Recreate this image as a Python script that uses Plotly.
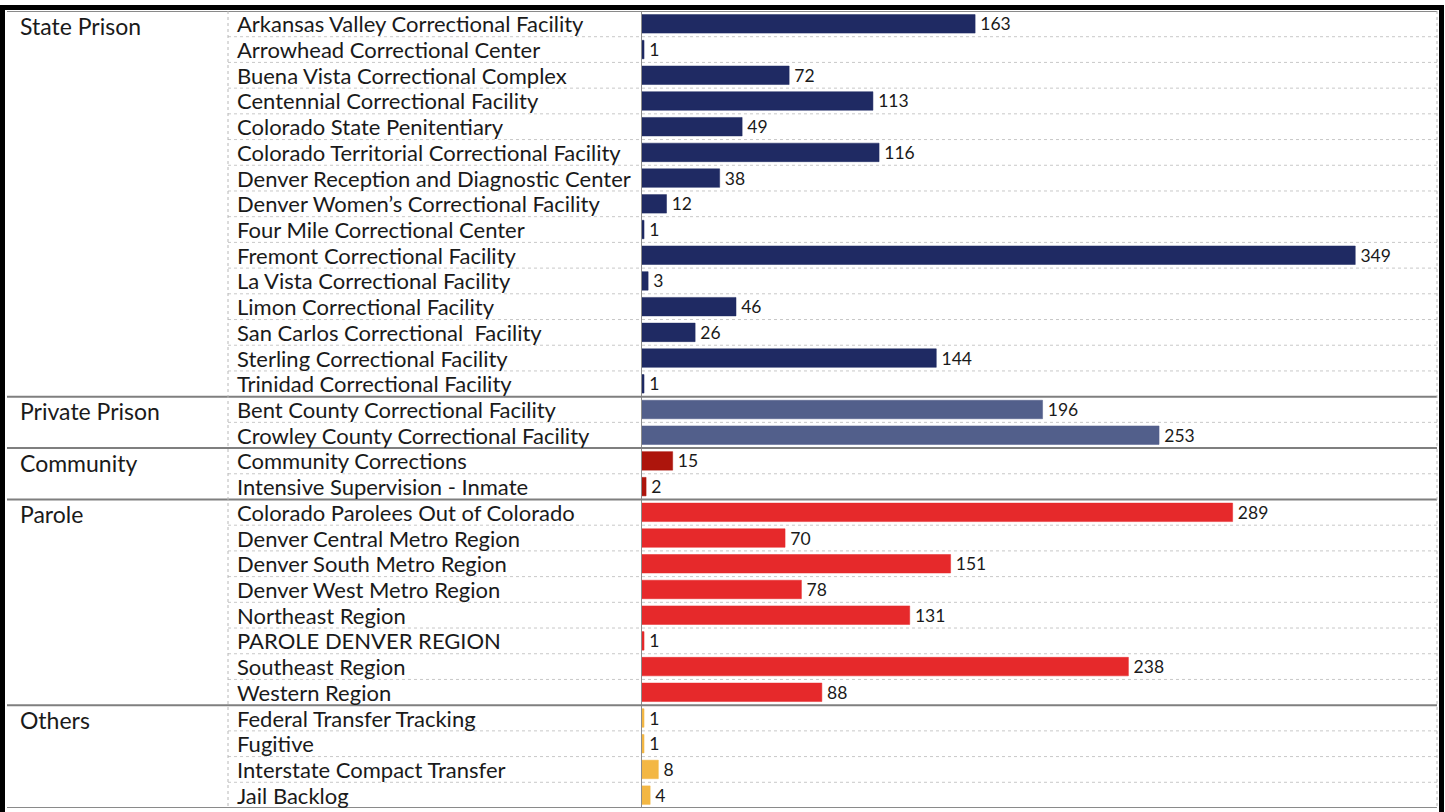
import plotly.graph_objects as go

# data
groups = ["State Prison", "Private Prison", "Community", "Parole", "Others"]
group_sizes = [15, 2, 2, 8, 4]
group_colors = ["#1f2a63", "#525f8b", "#ad150c", "#e6292b", "#f3b744"]

facilities = [
    "Arkansas Valley Correctional Facility", "Arrowhead Correctional Center",
    "Buena Vista Correctional Complex", "Centennial Correctional Facility",
    "Colorado State Penitentiary", "Colorado Territorial Correctional Facility",
    "Denver Reception and Diagnostic Center", "Denver Women\u2019s Correctional Facility",
    "Four Mile Correctional Center", "Fremont Correctional Facility",
    "La Vista Correctional Facility", "Limon Correctional Facility",
    "San Carlos Correctional  Facility", "Sterling Correctional Facility",
    "Trinidad Correctional Facility",
    "Bent County Correctional Facility", "Crowley County Correctional Facility",
    "Community Corrections", "Intensive Supervision - Inmate",
    "Colorado Parolees Out of Colorado", "Denver Central Metro Region",
    "Denver South Metro Region", "Denver West Metro Region", "Northeast Region",
    "PAROLE DENVER REGION", "Southeast Region", "Western Region",
    "Federal Transfer Tracking", "Fugitive", "Interstate Compact Transfer", "Jail Backlog",
]
counts = [163, 1, 72, 113, 49, 116, 38, 12, 1, 349, 3, 46, 26, 144, 1,
          196, 253,
          15, 2,
          289, 70, 151, 78, 131, 1, 238, 88,
          1, 1, 8, 4]

W, H = 1445, 812
FONT = "Lato"
n = len(facilities)

def px_x(p):
    return p / W

def px_y(p):
    return 1 - p / H

top_px, bot_px = 11, 808
left_px, name_px, zero_px, right_px = 7, 228, 642, 1437

fig = go.Figure()

row = 0
for g, size, col in zip(groups, group_sizes, group_colors):
    idx = list(range(row, row + size))
    fig.add_trace(go.Bar(
        x=counts[row:row + size], y=idx, orientation="h",
        marker=dict(color=col, line=dict(color=col, width=0.5)),
        width=0.72,
        text=["\u2009" + str(v) for v in counts[row:row + size]],
        textposition="outside", cliponaxis=False, constraintext="none",
        textfont=dict(family=FONT, size=17.5, color="#1a1a1a"),
        showlegend=False, hoverinfo="skip",
    ))
    fig.add_annotation(x=px_x(18), xref="paper", y=row, yref="y", text=g,
                       showarrow=False, xanchor="left", yanchor="middle", yshift=-2,
                       font=dict(family=FONT, size=23, color="#1a1a1a"))
    row += size

for i, name in enumerate(facilities):
    fig.add_annotation(x=px_x(235), xref="paper", y=i, yref="y", text=name,
                       showarrow=False, xanchor="left", yanchor="middle",
                       font=dict(family=FONT, size=22, color="#1a1a1a"))

shapes = []
# row separators (dotted) and group separators (solid)
bounds = []
acc = 0
for s in group_sizes[:-1]:
    acc += s
    bounds.append(acc - 0.5)
for i in range(n - 1):
    yb = i + 0.5
    if yb in bounds:
        shapes.append(dict(type="line", xref="paper", yref="y", x0=px_x(left_px), x1=px_x(right_px),
                           y0=yb, y1=yb, line=dict(color="#7f7f7f", width=2)))
    else:
        shapes.append(dict(type="line", xref="paper", yref="y", x0=px_x(name_px), x1=px_x(right_px),
                           y0=yb, y1=yb, line=dict(color="#c8c8c8", width=1, dash="dot")))
# top and bottom gray lines
for yb in [-0.5, n - 0.5]:
    shapes.append(dict(type="line", xref="paper", yref="y", x0=px_x(left_px), x1=px_x(right_px),
                       y0=yb, y1=yb, line=dict(color="#8a8a8a", width=2)))
# vertical dotted separators
for xp in [name_px, right_px]:
    shapes.append(dict(type="line", xref="paper", yref="y", x0=px_x(xp), x1=px_x(xp),
                       y0=-0.5, y1=n - 0.5, line=dict(color="#b8b8b8", width=1, dash="dot")))
# outer black frame
shapes.append(dict(type="rect", xref="paper", yref="paper", x0=px_x(2.5), x1=px_x(1441.5),
                   y0=px_y(830), y1=px_y(7.5), line=dict(color="#000000", width=5),
                   fillcolor="rgba(0,0,0,0)"))

fig.update_layout(
    width=W, height=H,
    margin=dict(l=0, r=0, t=0, b=0),
    plot_bgcolor="white", paper_bgcolor="white",
    bargap=0.28,
    shapes=shapes,
    xaxis=dict(domain=[px_x(zero_px), px_x(right_px)], range=[0, 389],
               showgrid=False, zeroline=False, showticklabels=False, ticks=""),
    yaxis=dict(domain=[px_y(bot_px), px_y(top_px)], range=[n - 0.5, -0.5],
               showgrid=False, zeroline=False, showticklabels=False, ticks="",
               showline=True, linecolor="#8c8c8c", linewidth=1),
)

fig.write_html("out.html", config={"displayModeBar": False},
               post_script="document.body.style.margin='0px';document.body.style.overflow='hidden';")
